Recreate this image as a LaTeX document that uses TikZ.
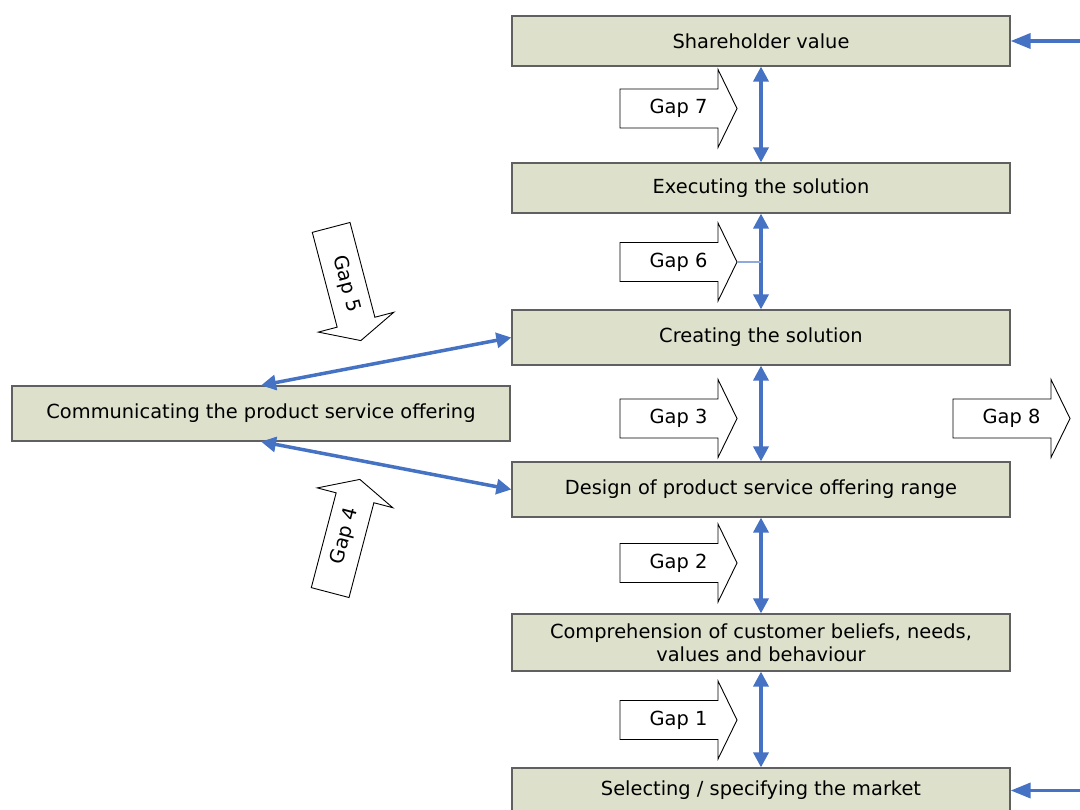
\documentclass[tikz,border=0pt]{standalone}
\usepackage{fontspec}
\setmainfont{DejaVu Sans}
\usetikzlibrary{arrows.meta}
\definecolor{boxfill}{RGB}{221,224,203}
\definecolor{boxline}{RGB}{96,96,96}
\definecolor{linkblue}{RGB}{70,114,196}
\definecolor{thinblue}{RGB}{142,170,219}
\tikzset{
  stagebox/.style={draw=boxline, line width=1.2pt, fill=boxfill, minimum width=498pt, inner sep=0pt, align=center, font=\fontsize{19.4}{23}\selectfont, text=black},
  gapshape/.style={draw=black, line width=0.9pt, fill=white, line join=miter},
  gaptext/.style={inner sep=0pt, font=\fontsize{19.4}{23}\selectfont, text=black},
  link/.style={draw=linkblue, line width=3.5pt, {Triangle[width=15pt,length=15pt]}-{Triangle[width=15pt,length=15pt]}},
  inlink/.style={draw=linkblue, line width=3.5pt, -{Triangle[width=15pt,length=20pt]}},
}
\newcommand{\gaparrow}[4]{%
  \begin{scope}[shift={(#2)}, rotate=#3]
    \draw[gapshape] (-58.5,-19.5) -- (39.5,-19.5) -- (39.5,-39) -- (58.5,0) -- (39.5,39) -- (39.5,19.5) -- (-58.5,19.5) -- cycle;
    \coordinate (#1tip) at (58.5,0);
  \end{scope}
  \node[gaptext, rotate=#3] (#1) at (#2) {#4};
}
\begin{document}
\begin{tikzpicture}[x=1pt,y=-1pt]
\useasboundingbox (0,0) rectangle (1080,810);

\node[stagebox, minimum height=50pt] (sv) at (761,41) {Shareholder value};
\node[stagebox, minimum height=50pt] (ex) at (761,188) {Executing the solution};
\node[stagebox, minimum height=55pt] (cr) at (761,337.5) {Creating the solution};
\node[stagebox, minimum height=55pt] (co) at (261,413.5) {Communicating the product service offering};
\node[stagebox, minimum height=55pt] (de) at (761,489.5) {Design of product service offering range};
\node[stagebox, minimum height=57pt] (cm) at (761,642.5) {Comprehension of customer beliefs, needs,\\ values and behaviour};
\node[stagebox, minimum height=45pt] (se) at (761,790.5) {Selecting / specifying the market};

\coordinate (svin) at (1080,41);
\coordinate (sein) at (1080,790.5);

\draw[link] (sv.south) -- (ex.north);
\draw[link] (ex.south) -- (cr.north);
\draw[link] (cr.south) -- (de.north);
\draw[link] (de.south) -- (cm.north);
\draw[link] (cm.south) -- (se.north);
\draw[link] (co.north) -- (cr.west);
\draw[link] (co.south) -- (de.west);
\draw[inlink] (svin) -- (sv.east);
\draw[inlink] (sein) -- (se.east);

\gaparrow{g7}{678.5,108.5}{0}{Gap 7}
\gaparrow{g6}{678.5,262}{0}{Gap 6}
\gaparrow{g3}{678.5,418.5}{0}{Gap 3}
\gaparrow{g2}{678.5,563}{0}{Gap 2}
\gaparrow{g1}{678.5,720}{0}{Gap 1}
\gaparrow{g8}{1011.5,418.5}{0}{Gap 8}
\gaparrow{g5}{346,284}{-75.3}{Gap 5}
\gaparrow{g4}{345,536}{75.3}{Gap 4}

\coordinate (g6link) at (761,262);
\draw[thinblue, line width=1.5pt] (g6tip) -- (g6link);
\end{tikzpicture}
\end{document}
